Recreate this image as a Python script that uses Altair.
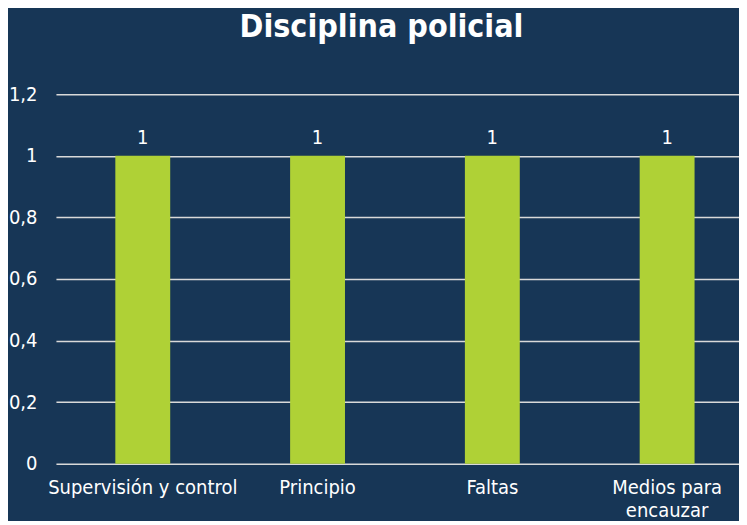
import altair as alt
import pandas as pd

categories = ["Supervisión y control", "Principio", "Faltas", "Medios para encauzar"]
values = [1, 1, 1, 1]
y_ticks = [0, 0.2, 0.4, 0.6, 0.8, 1.0, 1.2]

df = pd.DataFrame({"cat": categories, "val": values})

FONT = "DejaVu Sans Condensed"
BG = "#173656"
BAR = "#afd136"

x = alt.X(
    "cat:N",
    sort=categories,
    title=None,
    scale=alt.Scale(paddingInner=0.686, paddingOuter=0.297, align=0.572),
    axis=alt.Axis(
        labelAngle=0,
        labelColor="white",
        labelFont=FONT,
        labelFontSize=20,
        labelLimit=300,
        labelPadding=14,
        labelLineHeight=23,
        ticks=False,
        domain=False,
        labelExpr="datum.label == 'Medios para encauzar' ? ['Medios para', 'encauzar'] : datum.label",
    ),
)
y = alt.Y(
    "val:Q",
    title=None,
    scale=alt.Scale(domain=[0, 1.2], nice=False),
    axis=alt.Axis(
        values=y_ticks,
        labelColor="white",
        labelFont=FONT,
        labelFontSize=20,
        labelPadding=19,
        ticks=False,
        domain=False,
        grid=True,
        gridColor="#d9d9d9",
        gridWidth=1.5,
        labelExpr="replace(toString(round(datum.value*10)/10), '.', ',')",
    ),
)

bars = alt.Chart(df).mark_bar(color=BAR).encode(x=x, y=y)
labels = alt.Chart(df).mark_text(
    color="white", font=FONT, fontSize=20, dy=-18
).encode(x=alt.X("cat:N", sort=categories), y="val:Q", text="val:Q")

chart = (
    alt.layer(bars, labels)
    .properties(
        width=684,
        height=370,
        background=BG,
        padding={"left": 0, "right": 0, "top": 3, "bottom": 0},
        title=alt.TitleParams(
            "Disciplina policial",
            color="white",
            font=FONT,
            fontSize=32,
            fontWeight="bold",
            anchor="middle",
            dx=-16,
            offset=40,
        ),
    )
    .configure_view(stroke=None)
)

chart.save("out.html", embed_options={"renderer": "svg", "actions": False})
